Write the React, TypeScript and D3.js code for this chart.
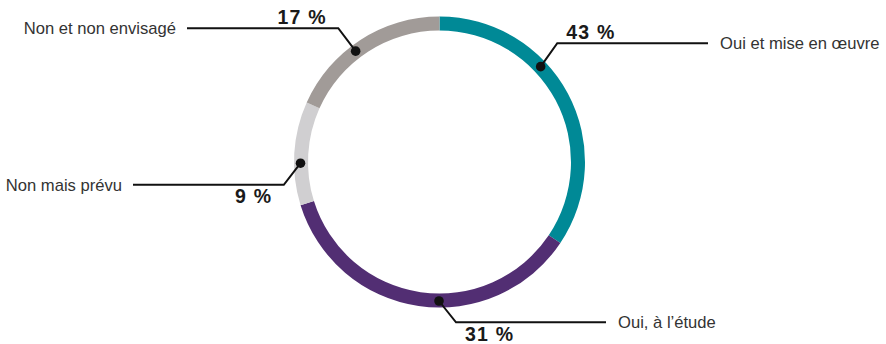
import React from "react";
import * as d3 from "d3";

// Data
const categories = ["Oui et mise en œuvre", "Oui, à l’étude", "Non mais prévu", "Non et non envisagé"];
const labelValues = [43, 31, 9, 17];
// Arc shares as drawn in the reference ring
const arcShares = [34.4, 35.8, 11.5, 18.3];
const colors = ["#008996", "#522e73", "#d0cfd1", "#a19b98"];

// Leader layout (angles in degrees clockwise from top, elbow offsets, line end x)
const anchorDeg = [46.7, 180.2, 269.5, 322.9];
const elbowDx = [16.6, 17, -16.7, -17.4];
const elbowDy = [-23.4, 21.3, 21.6, -23];
const lineEndX = [708, 606, 133, 187];

const W = 886;
const H = 344;
const cx = 439.5;
const cy = 162;
const rOuter = 145.5;
const rInner = 131.5;
const rMid = 139;

export default function App() {
  const pie = d3.pie<number>().value((d) => d).sort(null);
  const arcs = pie(arcShares);
  const arcGen = d3.arc<d3.PieArcDatum<number>>().innerRadius(rInner).outerRadius(rOuter);
  const font = "'Liberation Sans', Arial, Helvetica, sans-serif";

  return (
    <svg
      width={W}
      height={H}
      style={{ position: "absolute", left: 0, top: 0, background: "#fff" }}
    >
      <g transform={`translate(${cx},${cy})`}>
        {arcs.map((a, i) => (
          <path key={i} d={arcGen(a) || ""} fill={colors[i]} />
        ))}
      </g>
      {categories.map((c, i) => {
        const ang = (anchorDeg[i] * Math.PI) / 180;
        const px = cx + rMid * Math.sin(ang);
        const py = cy - rMid * Math.cos(ang);
        const ex = px + elbowDx[i];
        const ey = py + elbowDy[i];
        const right = elbowDx[i] > 0;
        const above = elbowDy[i] < 0;
        const lx = lineEndX[i];
        const labelX = right ? lx + 12 : lx - 11;
        const pctX = right ? ex + 9 : ex - 11.5;
        const pctY = above ? ey - 4.5 : ey + 18.5;
        return (
          <g key={c}>
            <polyline
              points={`${px},${py} ${ex},${ey} ${lx},${ey}`}
              fill="none"
              stroke="#111"
              strokeWidth={2}
            />
            <circle cx={px} cy={py} r={4.8} fill="#111" />
            <text
              x={labelX}
              y={ey}
              dy="0.35em"
              textAnchor={right ? "start" : "end"}
              fontFamily={font}
              fontSize={16.6}
              fill="#333"
            >
              {c}
            </text>
            <text
              x={pctX}
              y={pctY}
              textAnchor={right ? "start" : "end"}
              fontFamily={font}
              fontSize={19.5}
              fontWeight="bold"
              fill="#1a1a1a"
              letterSpacing={1.2}
            >
              {`${labelValues[i]} %`}
            </text>
          </g>
        );
      })}
    </svg>
  );
}
